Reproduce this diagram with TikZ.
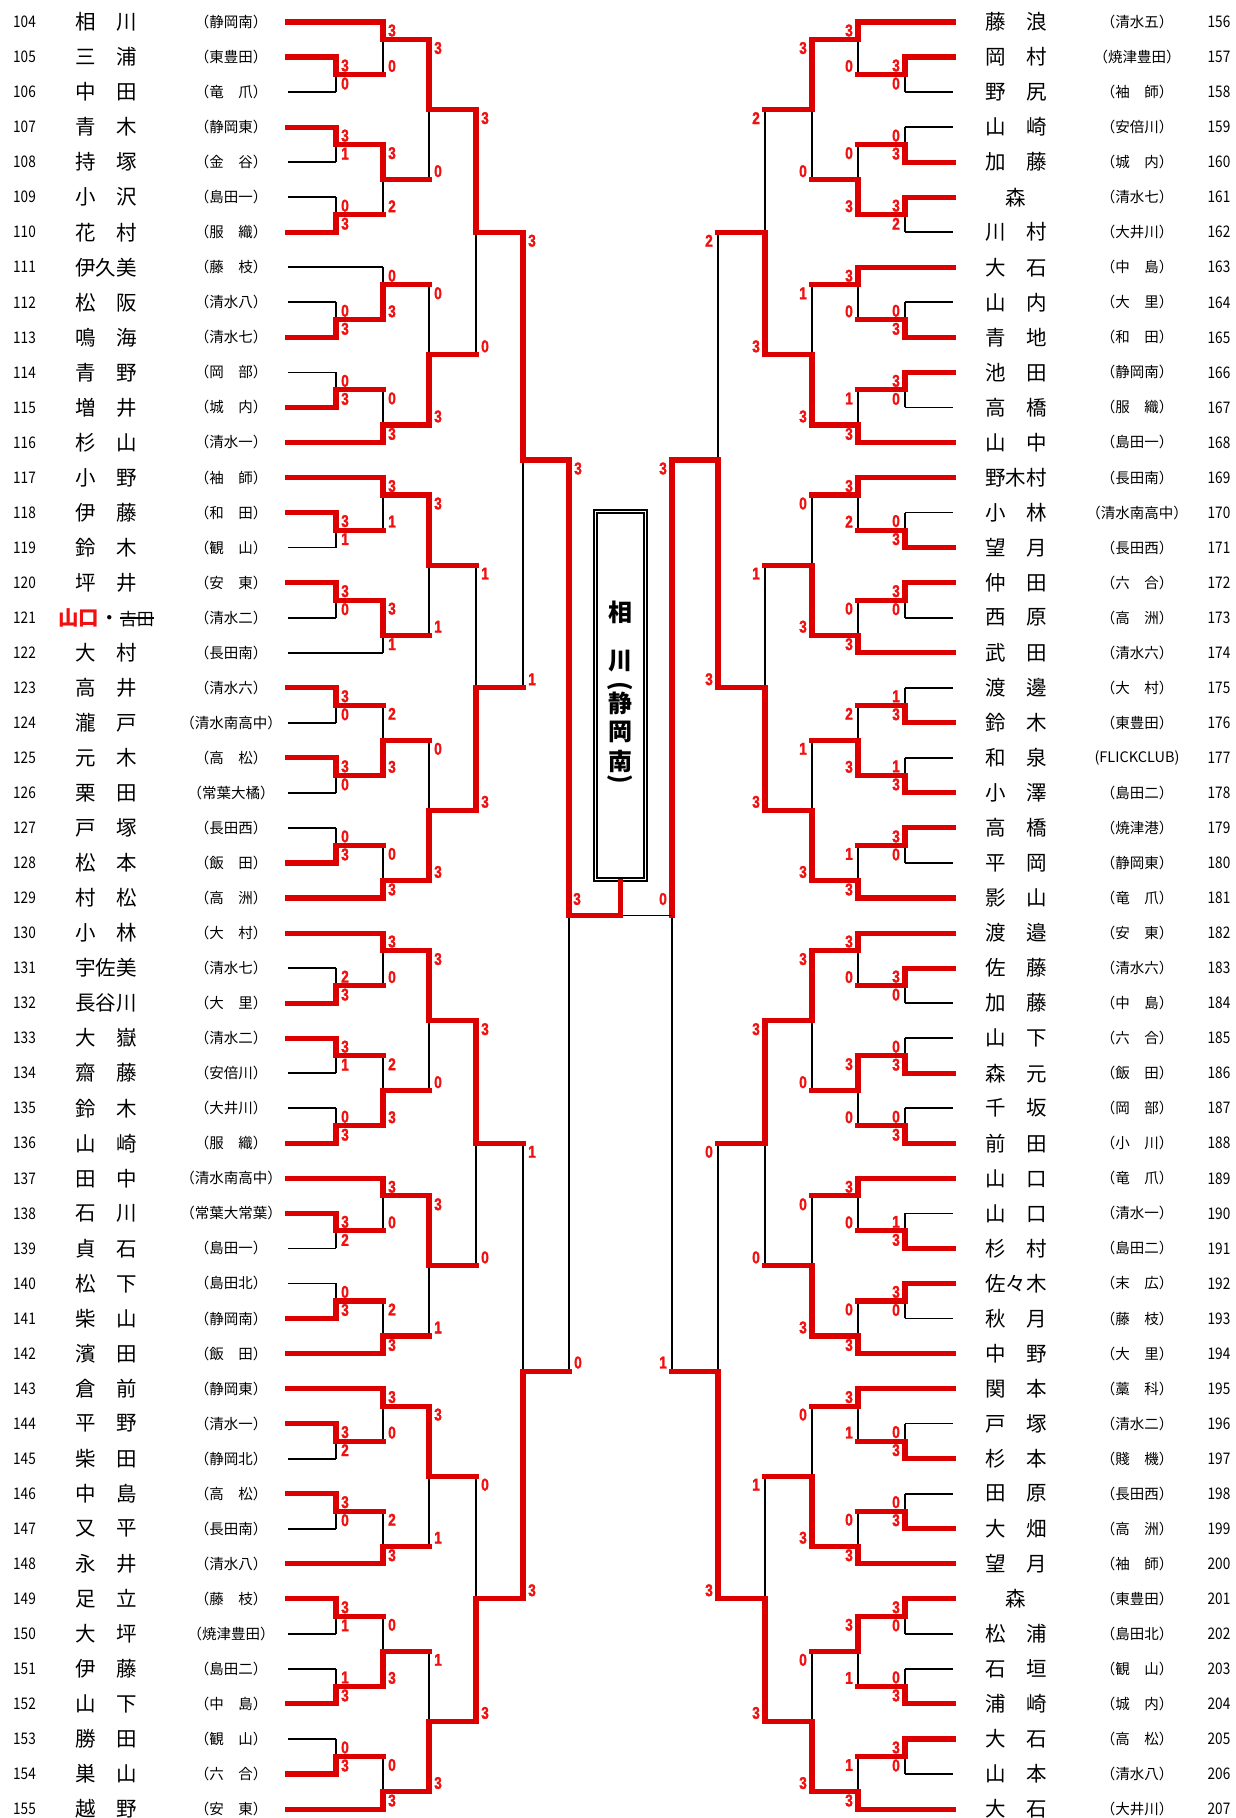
\documentclass[tikz,border=0pt]{standalone}
\usepackage{fontspec}
\usepackage{graphicx}
\usepackage{tikz}
\usetikzlibrary{calc}
\newfontfamily\fuenteJP{Noto Sans CJK JP}
\newfontfamily\fuenteNum[FakeStretch=0.85]{Noto Sans CJK JP}
\newfontfamily\fuenteTanteo[FakeStretch=0.8, FakeBold=1.6]{Liberation Sans}
\definecolor{rojoLinea}{RGB}{221,0,0}
\definecolor{rojoTanteo}{RGB}{240,16,16}
\pgfdeclarelayer{fondo}
\pgfsetlayers{fondo,main}

\newcount\nTanteo
% fila r -> altura en la hoja
\newcommand{\fila}[1]{(22+35.04*(#1))}
% un partido: columna, columna siguiente, arriba, abajo, salida, tanteos
\newcommand{\cruce}[7]{%
  \ifnum#6>#7\relax\def\filaG{#3}\def\filaP{#4}%
  \else\def\filaG{#4}\def\filaP{#3}\fi
  \begin{pgfonlayer}{fondo}
    \draw[perdedor] (#1,{\fila{\filaP}}) -- (#1,{\fila{#5}});
  \end{pgfonlayer}
  \draw[ganador] (#1,{\fila{\filaG}}) -- (#1,{\fila{#5}}) -- (#2,{\fila{#5}});
  \global\advance\nTanteo by 1
  \node[tanteo] (tanteo\the\nTanteo a) at (#1+9,{\fila{#3}+8.5}) {#6};
  \node[tanteo] (tanteo\the\nTanteo b) at (#1+9,{\fila{#4}-8.5}) {#7};
}
% primera ronda: las dos lineas de entrada y el partido
\newcommand{\primera}[5]{%
  \ifnum#4>#5\relax
    \draw[ganador] (288,{\fila{#1}}) -- (336,{\fila{#1}});
    \draw[perdedor] (288,{\fila{#2}}) -- (336,{\fila{#2}});
  \else
    \draw[perdedor] (288,{\fila{#1}}) -- (336,{\fila{#1}});
    \draw[ganador] (288,{\fila{#2}}) -- (336,{\fila{#2}});
  \fi
  \cruce{336}{383}{#1}{#2}{#3}{#4}{#5}%
}
% entrada directa a la segunda ronda
\newcommand{\libre}[2]{\draw[#2] (288,{\fila{#1}}) -- (383,{\fila{#1}});}
\newcommand{\tachado}[1]{\setbox0\hbox{#1}\rlap{\rule[0.32em]{\wd0}{1.3pt}}\box0}

\begin{document}
\begin{tikzpicture}[x=1pt, y=-1pt,
  ganador/.style={draw=rojoLinea, line width=5.1pt, line cap=rect},
  perdedor/.style={draw=black, line width=1.7pt},
  tanteo/.style={text=rojoTanteo, font=\fuenteTanteo\bfseries\fontsize{17}{17}\selectfont, inner sep=0pt},
  numero/.style={font=\fuenteNum\fontsize{16}{16}\selectfont, inner sep=0pt},
  nombre/.style={font=\fuenteJP\fontsize{20.5}{20.5}\selectfont, inner sep=0pt},
  escuela/.style={font=\fuenteJP\fontsize{14.5}{14.5}\selectfont, inner sep=0pt},
  caja/.style={draw=black, line width=1.1pt, minimum width=53pt, minimum height=371pt, inner sep=0pt},
  letraCaja/.style={font=\fuenteJP\bfseries\fontsize{24}{24}\selectfont, inner sep=0pt}
]
\useasboundingbox (0,0) rectangle (1235,1818);

% lado izquierdo: 104-155
\foreach \nm/\es [count=\i from 104] in {
  相　川/（静岡南）, 三　浦/（東豊田）, 中　田/（竜　爪）, 青　木/（静岡東）,
  持　塚/（金　谷）, 小　沢/（島田一）, 花　村/（服　織）, 伊久美/（藤　枝）,
  松　阪/（清水八）, 鳴　海/（清水七）, 青　野/（岡　部）, 増　井/（城　内）,
  杉　山/（清水一）, 小　野/（袖　師）, 伊　藤/（和　田）, 鈴　木/（観　山）,
  坪　井/（安　東）, {\color{rojoTanteo}\bfseries 山口}・\tachado{\fontsize{17}{17}\selectfont 吉田}/（清水二）,
  大　村/（長田南）, 高　井/（清水六）, 瀧　戸/（清水南高中）, 元　木/（高　松）,
  栗　田/（常葉大橘）, 戸　塚/（長田西）, 松　本/（飯　田）, 村　松/（高　洲）,
  小　林/（大　村）, 宇佐美/（清水七）, 長谷川/（大　里）, 大　嶽/（清水二）,
  齋　藤/（安倍川）, 鈴　木/（大井川）, 山　崎/（服　織）, 田　中/（清水南高中）,
  石　川/（常葉大常葉）, 貞　石/（島田一）, 松　下/（島田北）, 柴　山/（静岡南）,
  濱　田/（飯　田）, 倉　前/（静岡東）, 平　野/（清水一）, 柴　田/（静岡北）,
  中　島/（高　松）, 又　平/（長田南）, 永　井/（清水八）, 足　立/（藤　枝）,
  大　坪/（焼津豊田）, 伊　藤/（島田二）, 山　下/（中　島）, 勝　田/（観　山）,
  巣　山/（六　合）, 越　野/（安　東）}{
  \node[numero] (num\i) at (24.5,{\fila{\i-104}}) {\i};
  \node[nombre] (nom\i) at (106,{\fila{\i-104}}) {\nm};
  \node[escuela] (esc\i) at (231,{\fila{\i-104}}) {\es};
}

% lado derecho: 156-207
\foreach \nm/\es [count=\i from 156] in {
  藤　浪/（清水五）, 岡　村/（焼津豊田）, 野　尻/（袖　師）, 山　崎/（安倍川）,
  加　藤/（城　内）, 森/（清水七）, 川　村/（大井川）, 大　石/（中　島）,
  山　内/（大　里）, 青　地/（和　田）, 池　田/（静岡南）, 高　橋/（服　織）,
  山　中/（島田一）, 野木村/（長田南）, 小　林/（清水南高中）, 望　月/（長田西）,
  仲　田/（六　合）, 西　原/（高　洲）, 武　田/（清水六）, 渡　邊/（大　村）,
  鈴　木/（東豊田）, 和　泉/(FLICKCLUB), 小　澤/（島田二）, 高　橋/（焼津港）,
  平　岡/（静岡東）, 影　山/（竜　爪）, 渡　邉/（安　東）, 佐　藤/（清水六）,
  加　藤/（中　島）, 山　下/（六　合）, 森　元/（飯　田）, 千　坂/（岡　部）,
  前　田/（小　川）, 山　口/（竜　爪）, 山　口/（清水一）, 杉　村/（島田二）,
  佐々木/（末　広）, 秋　月/（藤　枝）, 中　野/（大　里）, 関　本/（藁　科）,
  戸　塚/（清水二）, 杉　本/（賤　機）, 田　原/（長田西）, 大　畑/（高　洲）,
  望　月/（袖　師）, 森/（東豊田）, 松　浦/（島田北）, 石　垣/（観　山）,
  浦　崎/（城　内）, 大　石/（高　松）, 山　本/（清水八）, 大　石/（大井川）}{
  \node[numero] (num\i) at (1219,{\fila{\i-156}}) {\i};
  \node[nombre] (nom\i) at (1016,{\fila{\i-156}}) {\nm};
  \node[escuela] (esc\i) at (1137,{\fila{\i-156}}) {\es};
}

% cuadro del campeon
\node[caja] (campeon) at (620.5,695.5) {};
\draw[line width=2pt] ($(campeon.north west)+(4,4)$) rectangle ($(campeon.south east)+(-4,-4)$);
\foreach \ch/\yy [count=\k] in {相/612, 川/661, {\rotatebox{-90}{(}}/686, 静/703, 岡/732, 南/761, {\rotatebox{-90}{)}}/779}
  \node[letraCaja] (letra\k) at (620.5,\yy) {\ch};

% llave izquierda
\foreach \r/\s in {0/ganador, 7/perdedor, 12/ganador, 13/ganador, 18/perdedor, 25/ganador,
                   26/ganador, 33/ganador, 38/ganador, 39/ganador, 44/ganador, 51/ganador}
  \libre{\r}{\s};
\foreach \ya/\yb/\yo/\ka/\kb in {1/2/1.5/3/0, 3/4/3.5/3/1, 5/6/5.5/0/3, 8/9/8.5/0/3,
    10/11/10.5/0/3, 14/15/14.5/3/1, 16/17/16.5/3/0, 19/20/19.5/3/0, 21/22/21.5/3/0,
    23/24/23.5/0/3, 27/28/27.5/2/3, 29/30/29.5/3/1, 31/32/31.5/0/3, 34/35/34.5/3/2,
    36/37/36.5/0/3, 40/41/40.5/3/2, 42/43/42.5/3/0, 45/46/45.5/3/1, 47/48/47.5/1/3,
    49/50/49.5/0/3}
  {\primera{\ya}{\yb}{\yo}{\ka}{\kb}}
\foreach \ya/\yb/\yo/\ka/\kb in {0/1.5/0.5/3/0, 3.5/5.5/4.5/3/2, 7/8.5/7.5/0/3,
    10.5/12/11.5/0/3, 13/14.5/13.5/3/1, 16.5/18/17.5/3/1, 19.5/21.5/20.5/2/3,
    23.5/25/24.5/0/3, 26/27.5/26.5/3/0, 29.5/31.5/30.5/2/3, 33/34.5/33.5/3/0,
    36.5/38/37.5/2/3, 39/40.5/39.5/3/0, 42.5/44/43.5/2/3, 45.5/47.5/46.5/0/3,
    49.5/51/50.5/0/3}
  {\cruce{383}{429}{\ya}{\yb}{\yo}{\ka}{\kb}}
\foreach \ya/\yb/\yo/\ka/\kb in {0.5/4.5/2.5/3/0, 7.5/11.5/9.5/0/3, 13.5/17.5/15.5/3/1,
    20.5/24.5/22.5/0/3, 26.5/30.5/28.5/3/0, 33.5/37.5/35.5/3/1, 39.5/43.5/41.5/3/1,
    46.5/50.5/48.5/1/3}
  {\cruce{429}{476}{\ya}{\yb}{\yo}{\ka}{\kb}}
\foreach \ya/\yb/\yo/\ka/\kb in {2.5/9.5/6/3/0, 15.5/22.5/19/1/3, 28.5/35.5/32/3/0,
    41.5/48.5/45/0/3}
  {\cruce{476}{523}{\ya}{\yb}{\yo}{\ka}{\kb}}
\foreach \ya/\yb/\yo/\ka/\kb in {6/19/12.5/3/1, 32/45/38.5/1/3}
  {\cruce{523}{569}{\ya}{\yb}{\yo}{\ka}{\kb}}
\cruce{569}{569}{12.5}{38.5}{25.5}{3}{0}

% llave derecha, en espejo
\begin{scope}[xshift=1241pt, xscale=-1]
\foreach \r in {0, 7, 12, 13, 18, 25, 26, 33, 38, 39, 44, 51}
  \libre{\r}{ganador};
\foreach \ya/\yb/\yo/\ka/\kb in {1/2/1.5/3/0, 3/4/3.5/0/3, 5/6/5.5/3/2, 8/9/8.5/0/3,
    10/11/10.5/3/0, 14/15/14.5/0/3, 16/17/16.5/3/0, 19/20/19.5/1/3, 21/22/21.5/1/3,
    23/24/23.5/3/0, 27/28/27.5/3/0, 29/30/29.5/0/3, 31/32/31.5/0/3, 34/35/34.5/1/3,
    36/37/36.5/3/0, 40/41/40.5/0/3, 42/43/42.5/0/3, 45/46/45.5/3/0, 47/48/47.5/0/3,
    49/50/49.5/3/0}
  {\primera{\ya}{\yb}{\yo}{\ka}{\kb}}
\foreach \ya/\yb/\yo/\ka/\kb in {0/1.5/0.5/3/0, 3.5/5.5/4.5/0/3, 7/8.5/7.5/3/0,
    10.5/12/11.5/1/3, 13/14.5/13.5/3/2, 16.5/18/17.5/0/3, 19.5/21.5/20.5/2/3,
    23.5/25/24.5/1/3, 26/27.5/26.5/3/0, 29.5/31.5/30.5/3/0, 33/34.5/33.5/3/0,
    36.5/38/37.5/0/3, 39/40.5/39.5/3/1, 42.5/44/43.5/0/3, 45.5/47.5/46.5/3/1,
    49.5/51/50.5/1/3}
  {\cruce{383}{429}{\ya}{\yb}{\yo}{\ka}{\kb}}
\foreach \ya/\yb/\yo/\ka/\kb in {0.5/4.5/2.5/3/0, 7.5/11.5/9.5/1/3, 13.5/17.5/15.5/0/3,
    20.5/24.5/22.5/1/3, 26.5/30.5/28.5/3/0, 33.5/37.5/35.5/0/3, 39.5/43.5/41.5/0/3,
    46.5/50.5/48.5/0/3}
  {\cruce{429}{476}{\ya}{\yb}{\yo}{\ka}{\kb}}
\foreach \ya/\yb/\yo/\ka/\kb in {2.5/9.5/6/2/3, 15.5/22.5/19/1/3, 28.5/35.5/32/3/0,
    41.5/48.5/45/1/3}
  {\cruce{476}{523}{\ya}{\yb}{\yo}{\ka}{\kb}}
\foreach \ya/\yb/\yo/\ka/\kb in {6/19/12.5/2/3, 32/45/38.5/0/3}
  {\cruce{523}{569}{\ya}{\yb}{\yo}{\ka}{\kb}}
\cruce{569}{569}{12.5}{38.5}{25.5}{3}{1}
\end{scope}

% final
\coordinate (finI) at (569,{\fila{25.5}});
\coordinate (finD) at (672,{\fila{25.5}});
\coordinate (centro) at (620.5,{\fila{25.5}});
\draw[perdedor] (finD) -- (centro);
\draw[ganador] (finI) -- (centro) -- (campeon.south);
\node[tanteo] (finalI) at (577,899) {3};
\node[tanteo] (finalD) at (663,899) {0};

\end{tikzpicture}
\end{document}
